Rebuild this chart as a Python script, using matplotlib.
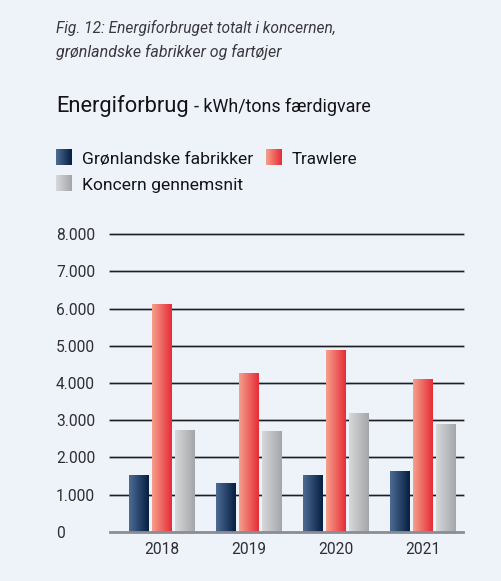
import matplotlib
matplotlib.use("Agg")
import matplotlib.pyplot as plt
import matplotlib.transforms as mtrans
import numpy as np
from matplotlib.colors import LinearSegmentedColormap

years = ["2018", "2019", "2020", "2021"]
groenlandske = [1520, 1300, 1520, 1630]
trawlere = [6120, 4280, 4880, 4110]
koncern = [2740, 2720, 3200, 2890]
series_names = ["Grønlandske fabrikker", "Trawlere", "Koncern gennemsnit"]
yticks = [0, 1000, 2000, 3000, 4000, 5000, 6000, 7000, 8000]
ytick_labels = ["0", "1.000", "2.000", "3.000", "4.000", "5.000", "6.000", "7.000", "8.000"]

BG = "#EEF2F9"
TXT = "#2e2e34"
FONT = ["Roboto", "DejaVu Sans"]
plt.rcParams["font.family"] = FONT

grads = [("#4d6b94", "#061f42"), ("#f5a08c", "#e62d37"), ("#d7d8da", "#a4a6a9")]

W, H = 501, 581
fig = plt.figure(figsize=(W / 100, H / 100), dpi=100, facecolor=BG)
renderer = fig.canvas.get_renderer()


def fit(t, target_px):
    """scale font size so that the text spans target_px pixels"""
    fs = t.get_fontsize()
    wpx = t.get_window_extent(renderer=renderer).width
    t.set_fontsize(fs * target_px / wpx)
    return t


def ftext(xpx, ypx, s, target, **kw):
    t = fig.text(xpx / W, 1 - ypx / H, s, fontsize=12, ha="left", va="baseline", **kw)
    fit(t, target)
    return t


ax = fig.add_axes([110.3 / W, 1 - 531.7 / H, 353 / W, (531.7 - 234.3) / H])
ax.set_facecolor(BG)

x = np.arange(len(years))
w = 0.229
off = 0.263
for i, vals in enumerate([groenlandske, trawlere, koncern]):
    bars = ax.bar(x + (i - 1) * off, vals, width=w, color=grads[i][1], zorder=3, linewidth=0)
    cmap = LinearSegmentedColormap.from_list("g%d" % i, list(grads[i]))
    grad = np.linspace(0, 1, 64).reshape(1, -1)
    for b in bars:
        bx, bw, bh = b.get_x(), b.get_width(), b.get_height()
        im = ax.imshow(grad, cmap=cmap, aspect="auto", extent=(bx, bx + bw, 0, bh),
                       zorder=4, interpolation="bilinear")
        im.set_clip_path(b)

ax.set_xlim(-0.59, 3.46)
ax.set_ylim(0, 8000)
for t in yticks[1:]:
    ax.axhline(t, color="#c3c8d0", lw=2.0, zorder=1, clip_on=False)
    ax.axhline(t, color="#1e1e22", lw=1.0, zorder=2, clip_on=False)
ax.axhline(0, color="#8a8d93", lw=2.0, zorder=5, clip_on=False)

for s in ax.spines.values():
    s.set_visible(False)
ax.set_yticks(yticks)
ax.set_yticklabels([])
ax.set_xticks(x)
ax.set_xticklabels([])
ax.tick_params(axis="both", length=0)

# tick labels
ref = fig.text(0, 0, "8.000", fontsize=12)
fit(ref, 39)
yfs = ref.get_fontsize()
ref.remove()
ytr = mtrans.blended_transform_factory(fig.transFigure, ax.transData)
for v, lab in zip(yticks, ytick_labels):
    ax.text(56 / W, v, lab, transform=ytr, fontsize=yfs, color=TXT, ha="left", va="center_baseline")
xtr = mtrans.blended_transform_factory(ax.transData, fig.transFigure)
for xi, lab in zip(x, years):
    ax.text(xi, 1 - 554 / H, lab, transform=xtr, fontsize=yfs, color=TXT, ha="center", va="baseline")

# titles
ftext(56, 33, "Fig. 12: Energiforbruget totalt i koncernen,", 279, style="italic", color="#3a3a3e")
ftext(56, 57, "grønlandske fabrikker og fartøjer", 224, style="italic", color="#3a3a3e")
ftext(56, 112, "Energiforbrug", 132, color="#141418")
ftext(194, 112, "- kWh/tons færdigvare", 176, color="#141418")

# legend
def legend_item(xpx, ypx, gi, label, target):
    cmap = LinearSegmentedColormap.from_list("lg%d" % gi, list(grads[gi]))
    lax = fig.add_axes([xpx / W, 1 - (ypx + 16) / H, 16 / W, 16 / H])
    lax.imshow(np.linspace(0, 1, 32).reshape(1, -1), cmap=cmap, aspect="auto")
    lax.axis("off")
    ftext(xpx + 26, ypx + 15, label, target, color="#141418")

legend_item(56, 149, 0, series_names[0], 170)
legend_item(266, 149, 1, series_names[1], 66)
legend_item(56, 175, 2, series_names[2], 160)

fig.savefig("out.png", dpi=100, facecolor=BG)
